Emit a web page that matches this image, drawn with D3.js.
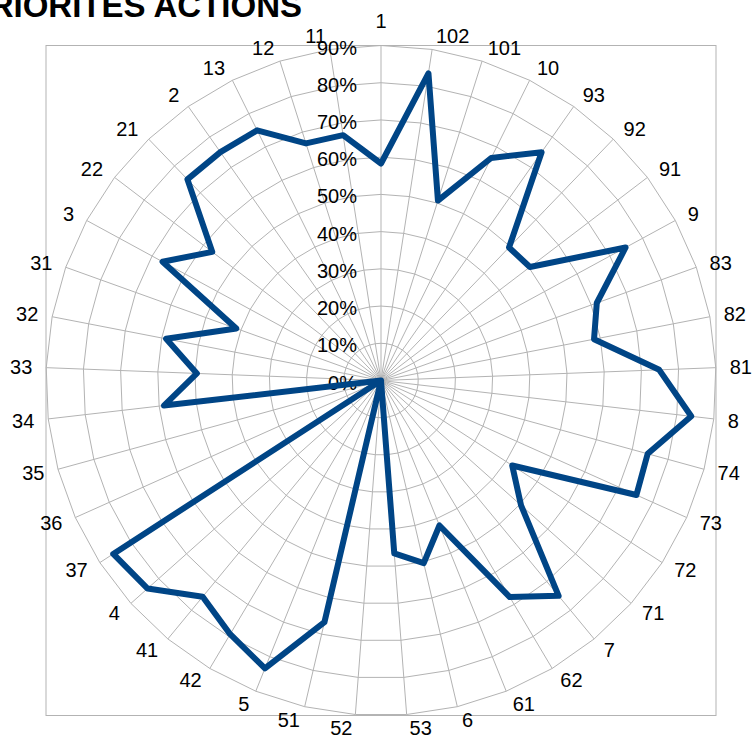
<!DOCTYPE html>
<html>
<head>
<meta charset="utf-8">
<script src="https://cdn.jsdelivr.net/npm/d3@7"></script>
<style>
  body { margin: 0; background: #fff; }
  svg { display: block; font-family: "Liberation Sans", Arial, sans-serif; }
</style>
</head>
<body>
<div id="chart"></div>
<script>
// categories clockwise from the top
var categories = ["1", "102", "101", "10", "93", "92", "91", "9", "83", "82", "81", "8",
  "74", "73", "72", "71", "7", "62", "61", "6", "53", "52", "51", "5", "42", "41", "4",
  "37", "36", "35", "34", "33", "32", "31", "3", "22", "21", "2", "13", "12", "11"];

// values in percent
var values = [58.3, 83.5, 50.7, 66.7, 75, 49.6, 50.3, 74.8, 61.6, 58.3, 74.8, 83.9,
  74.3, 75.2, 42, 50.4, 75, 67.7, 42, 50.4, 46.6, 0, 66.7, 83.4, 79.3, 75.3, 84,
  85.7, 0, 0, 58.7, 49.5, 58.8, 41.3, 66.8, 57, 75, 75, 75, 66.8, 66.7];

var ticks = [0, 10, 20, 30, 40, 50, 60, 70, 80, 90];

var width = 754,
  height = 736,
  cx = 381,
  cy = 380.5,
  R = 335;

var n = categories.length;

var r = d3.scaleLinear().domain([0, 90]).range([0, R]);
var angle = d3.scaleLinear().domain([0, n]).range([0, 2 * Math.PI]);

var svg = d3.select("#chart").append("svg")
  .attr("width", width)
  .attr("height", height);

// title, partly off the page like the original
svg.append("text")
  .attr("x", 302)
  .attr("y", 17)
  .attr("text-anchor", "end")
  .style("font-size", "33px")
  .style("font-weight", "bold")
  .text("PRIORITES ACTIONS");

var g = svg.append("g")
  .attr("transform", "translate(" + cx + "," + cy + ")");

// plot area border
g.append("rect")
  .attr("x", -R)
  .attr("y", -R)
  .attr("width", 2 * R)
  .attr("height", 2 * R)
  .attr("fill", "none")
  .attr("stroke", "#b3b3b3")
  .attr("stroke-width", 1);

// grid rings
var ring = d3.lineRadial()
  .angle(function(d, i) { return angle(i); })
  .radius(function(d) { return r(d); })
  .curve(d3.curveLinearClosed);

g.selectAll("path.ring")
  .data(ticks.slice(1))
  .enter().append("path")
  .attr("class", "ring")
  .attr("d", function(t) { return ring(categories.map(function() { return t; })); })
  .attr("fill", "none")
  .attr("stroke", "#b3b3b3")
  .attr("stroke-width", 1);

// spokes
g.selectAll("line.spoke")
  .data(categories)
  .enter().append("line")
  .attr("class", "spoke")
  .attr("x1", 0)
  .attr("y1", 0)
  .attr("x2", function(d, i) { return r(90) * Math.sin(angle(i)); })
  .attr("y2", function(d, i) { return -r(90) * Math.cos(angle(i)); })
  .attr("stroke", "#b3b3b3")
  .attr("stroke-width", 1);

// value axis labels
g.selectAll("text.tick")
  .data(ticks)
  .enter().append("text")
  .attr("class", "tick")
  .attr("x", -24)
  .attr("y", function(d) { return -r(d) + 2; })
  .attr("dy", "0.35em")
  .attr("text-anchor", "end")
  .style("font-size", "20px")
  .text(function(d) { return d + "%"; });

// category labels
g.selectAll("text.cat")
  .data(categories)
  .enter().append("text")
  .attr("class", "cat")
  .each(function(d, i) {
    var a = angle(i),
      s = Math.sin(a),
      c = Math.cos(a),
      px = (R + 8) * s,
      py = -(R + 8) * c,
      t = d3.select(this);
    if (Math.abs(s) < 1e-6) {
      t.attr("x", px).attr("y", py - 17).attr("text-anchor", "middle");
    } else {
      var gap = 2 + 4 * Math.abs(s);
      t.attr("x", px + (s > 0 ? gap : -gap))
        .attr("y", py - c * 6)
        .attr("text-anchor", s > 0 ? "start" : "end");
    }
  })
  .attr("dy", "0.35em")
  .style("font-size", "20px")
  .text(function(d) { return d; });

// data series
var line = d3.lineRadial()
  .angle(function(d, i) { return angle(i); })
  .radius(function(d) { return r(d); })
  .curve(d3.curveLinearClosed);

g.append("path")
  .datum(values)
  .attr("d", line)
  .attr("fill", "none")
  .attr("stroke", "#004586")
  .attr("stroke-width", 6)
  .attr("stroke-linejoin", "round");
</script>
</body>
</html>
